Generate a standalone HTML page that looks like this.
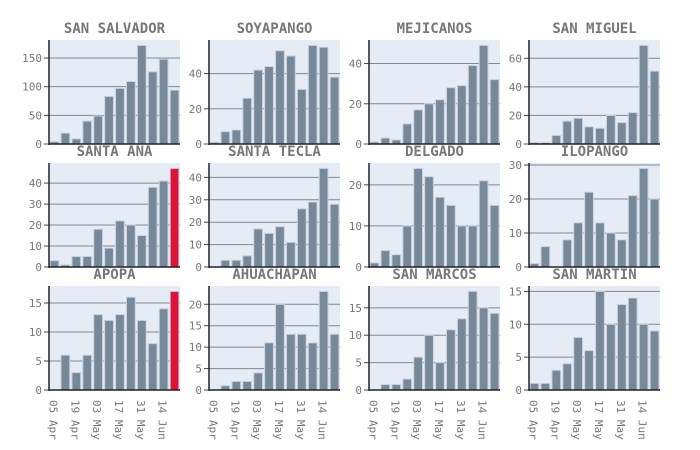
<!DOCTYPE html>
<html><head><meta charset="utf-8"><style>
html,body{margin:0;padding:0;background:#fff;}
svg{display:block;}
</style></head><body>
<svg id="chart" width="700" height="450" xmlns="http://www.w3.org/2000/svg"></svg>
<script>
const dates = ["05 Apr","12 Apr","19 Apr","26 Apr","03 May","10 May","17 May","24 May","31 May","07 Jun","14 Jun","21 Jun"];
const tickLabels = ["05 Apr","19 Apr","03 May","17 May","31 May","14 Jun"];
const names = ["SAN SALVADOR","SOYAPANGO","MEJICANOS","SAN MIGUEL","SANTA ANA","SANTA TECLA","DELGADO","ILOPANGO","APOPA","AHUACHAPAN","SAN MARCOS","SAN MARTIN"];
const sanSalvador = [4,19,9,40,49,83,97,109,172,126,148,94];
const soyapango = [1,7,8,26,42,44,53,50,31,56,55,38];
const mejicanos = [1,3,2,10,17,20,22,28,29,39,49,32];
const sanMiguel = [1,1,6,16,18,12,11,20,15,22,69,51];
const santaAna = [3,1,5,5,18,9,22,20,15,38,41,47];
const santaTecla = [0,3,3,5,17,15,18,11,26,29,44,28];
const delgado = [1,4,3,10,24,22,17,15,10,10,21,15];
const ilopango = [1,6,0,8,13,22,13,10,8,21,29,20];
const apopa = [0,6,3,6,13,12,13,16,12,8,14,17];
const ahuachapan = [0,1,2,2,4,11,20,13,13,11,23,13];
const sanMarcos = [0,1,1,2,6,10,5,11,13,18,15,14];
const sanMartin = [1,1,3,4,8,6,15,10,13,14,10,9];
const series = [sanSalvador,soyapango,mejicanos,sanMiguel,santaAna,santaTecla,delgado,ilopango,apopa,ahuachapan,sanMarcos,sanMartin];
const yTicks = [[0,50,100,150],[0,20,40],[0,20,40],[0,20,40,60],[0,10,20,30,40],[0,10,20,30,40],[0,10,20],[0,10,20,30],[0,5,10,15],[0,5,10,15,20],[0,5,10,15],[0,5,10,15]];
const highlightLast = [false,false,false,false,true,false,false,false,true,false,false,false];

const svg = document.getElementById('chart');
const NS = "http://www.w3.org/2000/svg";
function mk(tag, attrs, parent){const e=document.createElementNS(NS,tag);for(const k in attrs)e.setAttribute(k,attrs[k]);(parent||svg).appendChild(e);return e;}
const colX = [49,209,369,529];
const rowY = [40,163,286];
const W = 131, H = 104;
const font = '"DejaVu Sans Mono", "Liberation Mono", monospace';

series.forEach((vals, i) => {
  const c = i % 4, r = Math.floor(i / 4);
  const x0 = colX[c], y0 = rowY[r];
  const g = mk('g', {});
  
  
  const ymax = Math.max(...vals) * 1.055;
  const ys = v => y0 + H - v / ymax * H;
  const band = W / vals.length;
  const xs = k => x0 + band * k;
  const bg = mk('rect', {x:x0, y:y0, width:W, height:H, fill:'#e5ecf6'}, g);
  
  
  yTicks[i].forEach(t => {
    const y = ys(t);
    if (t > 0) {
      const gl = mk('line', {x1:x0, x2:x0+W, y1:y, y2:y, stroke:'#808890', 'stroke-width':1}, g);
      
      
    }
    mk('line', {x1:x0-5, x2:x0, y1:y, y2:y, stroke:'#444', 'stroke-width':1}, g);
    const tl = mk('text', {x:x0-7, y:y+4, 'text-anchor':'end', 'font-family':font, 'font-size':11, fill:'#777'}, g);
    tl.textContent = t;
    
    
  });
  vals.forEach((v, k) => {
    const red = highlightLast[i] && k === vals.length - 1;
    const b = mk('rect', {x:xs(k)+band*0.1, y:ys(v), width:band*0.8, height:Math.max(0, y0+H-ys(v)), fill: red ? '#dc143c' : '#778899', stroke:'#c8d2de', 'stroke-width':1}, g);
    
    
  });
  const ax = mk('line', {x1:x0, x2:x0, y1:y0, y2:y0+H+1, stroke:'#222', 'stroke-width':1.5}, g);
  
  
  const bx = mk('line', {x1:x0, x2:x0+W, y1:y0+H, y2:y0+H, stroke:'#222', 'stroke-width':1.5}, g);
  
  
  const tt = mk('text', {x:x0+W/2, y:y0-7, 'text-anchor':'middle', 'font-family':font, 'font-size':14, 'font-weight':'bold', fill:'#777'}, g);
  tt.textContent = names[i];
  
  
  if (r === 2) {
    tickLabels.forEach((lab, j) => {
      const cx = xs(j*2) + band/2 - 1;
      const t = mk('text', {x:0, y:0, transform:`translate(${cx-4},${y0+H+10}) rotate(90)`, 'font-family':font, 'font-size':11, fill:'#777'}, g);
      t.textContent = lab;
      
      
    });
  }
});
</script>
</body></html>
